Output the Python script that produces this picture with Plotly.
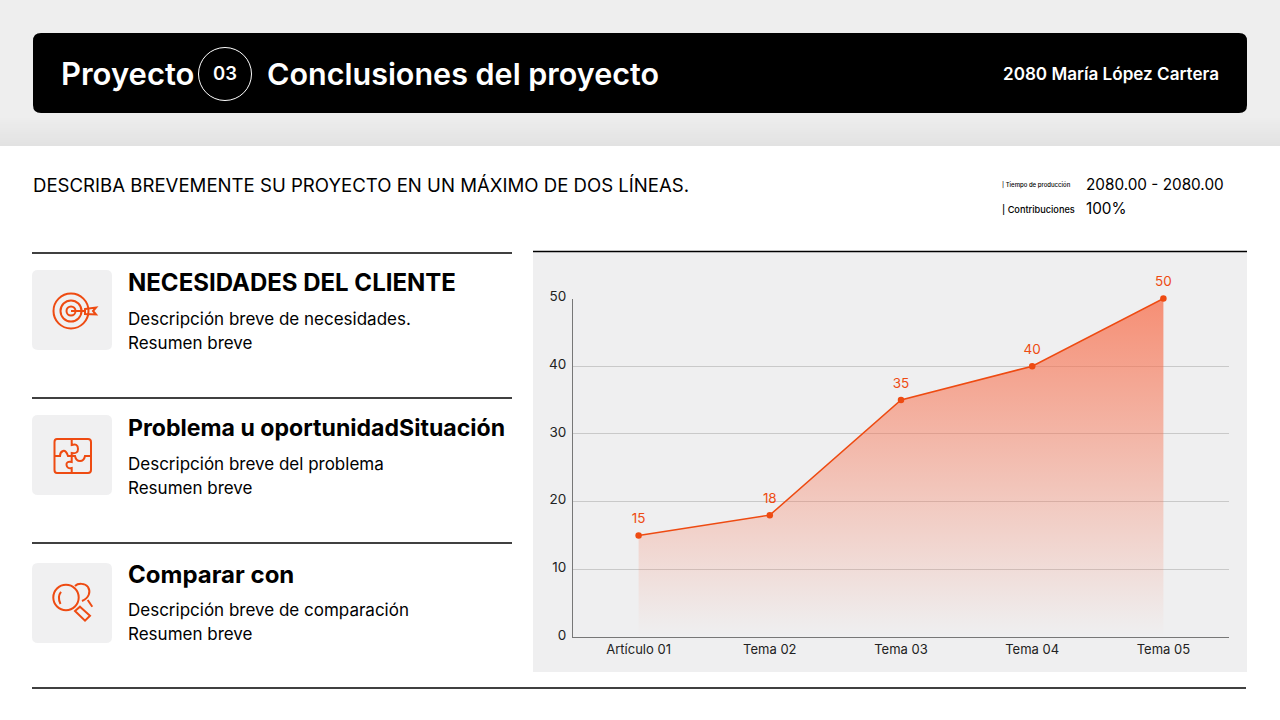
import re
import plotly.graph_objects as go

W, H = 1280, 720
ORANGE = '#ee4b12'
FONT = 'Inter'

# chart data
categories = ['Artículo 01', 'Tema 02', 'Tema 03', 'Tema 04', 'Tema 05']
values = [15, 18, 35, 40, 50]
y_ticks = [0, 10, 20, 30, 40, 50]

# page text
headings = ['NECESIDADES DEL CLIENTE', 'Problema u oportunidadSituación', 'Comparar con']
heading_sizes = [24, 23.1, 24]
first_lines = ['Descripción breve de necesidades.', 'Descripción breve del problema',
               'Descripción breve de comparación']
second_lines = ['Resumen breve', 'Resumen breve', 'Resumen breve']


def px(x):
    return x / W


def py(y):
    return 1 - y / H


def path(d):
    # pixel path -> paper path
    out, is_x = [], True
    for tok in re.findall(r'[A-Za-z]|-?[\d.]+', d):
        if tok.isalpha():
            out.append(tok)
            is_x = True
        else:
            out.append(f'{px(float(tok)):.5f}' if is_x else f'{py(float(tok)):.5f}')
            is_x = not is_x
    return ' '.join(out)


def rect(x0, y0, x1, y1, color):
    return dict(type='rect', xref='paper', yref='paper', layer='below', x0=px(x0), x1=px(x1),
                y0=py(y0), y1=py(y1), fillcolor=color, line_width=0)


def rrect(x0, y0, x1, y1, r, color):
    d = (f'M {x0 + r} {y0} L {x1 - r} {y0} Q {x1} {y0} {x1} {y0 + r} L {x1} {y1 - r} Q {x1} {y1} {x1 - r} {y1} '
         f'L {x0 + r} {y1} Q {x0} {y1} {x0} {y1 - r} L {x0} {y0 + r} Q {x0} {y0} {x0 + r} {y0} Z')
    return dict(type='path', xref='paper', yref='paper', layer='below', path=path(d),
                fillcolor=color, line_width=0)


def rule(x0, x1, y, width=1.5):
    return dict(type='line', xref='paper', yref='paper', layer='above', x0=px(x0), x1=px(x1),
                y0=py(y), y1=py(y), line=dict(color='#000000', width=width))


def circle(cx, cy, r, color=ORANGE, width=2):
    return dict(type='circle', xref='paper', yref='paper', layer='above', x0=px(cx - r), x1=px(cx + r),
                y0=py(cy - r), y1=py(cy + r), line=dict(color=color, width=width))


def stroke(d, width=2):
    return dict(type='path', xref='paper', yref='paper', layer='above', path=path(d),
                line=dict(color=ORANGE, width=width))


def label(x, y, text, size, color='#000000', weight=400, anchor='left'):
    return dict(xref='paper', yref='paper', x=px(x), y=py(y), text=text, showarrow=False,
                xanchor=anchor, yanchor='middle', align=anchor, borderpad=0, borderwidth=0,
                font=dict(family=FONT, size=size, color=color, weight=weight))


shapes = []
# header band fading darker towards the white page
shapes.append(rect(0, 0, W, 146, '#eeeeee'))
for i in range(16):
    c = 238 - int(i * 0.8)
    shapes.append(rect(0, 114 + i * 2, W, 116 + i * 2, f'rgb({c},{c},{c})'))
shapes.append(rrect(33, 33, 1247, 113, 8, '#000000'))
shapes.append(circle(225, 74, 26.5, '#ffffff', 1))

# chart panel
shapes.append(rect(533, 252, 1247, 672, '#efeff0'))
shapes.append(rule(533, 1247, 251.5))

# rules on the left
for y in [253, 398, 543]:
    shapes.append(rule(32, 512, y))
shapes.append(rule(32, 1246, 688))

# icon cards
for y0 in [270, 415, 563]:
    shapes.append(rrect(32, y0, 112, y0 + 80, 6, '#f0f0f1'))

# target icon
shapes += [circle(71, 311, 17.5), circle(71, 311, 10.5), circle(71, 311, 4.5)]
shapes.append(stroke('M 71 311 L 85 311'))
shapes.append(stroke('M 85 309 L 96 307.5 L 93 311 L 96 314.5 L 85 314 Z'))

# puzzle icon
shapes.append(stroke('M 57 439 L 88 439 Q 91 439 91 442 L 91 470 Q 91 473 88 473 L 57 473 '
                     'Q 54.5 473 54.5 470 L 54.5 442 Q 54.5 439 57 439 Z'))
shapes.append(stroke('M 71.7 439 L 71.7 445 Q 78 443 78 449 Q 78 454 71.7 453 L 71.7 456 L 68 456 '
                     'Q 66 450 63 451 Q 60 452 60 456 L 54.5 456'))
shapes.append(stroke('M 71.7 456 L 75 456 Q 76 461 80 461 Q 84 461 85 456 L 91 456'))
shapes.append(stroke('M 71.7 456 L 71.7 462 Q 66 461 66.5 465 Q 67 469 71.7 468 L 71.7 473'))

# magnifier icon
shapes.append(circle(66, 597.5, 12.7))
shapes.append(stroke('M 60.5 604 Q 57 597 61 592'))
shapes.append(stroke('M 75 586 C 78 583 85 583 88 587 C 91 592 89 598 82 601'))
shapes.append(stroke('M 87.7 600 L 92.3 606.7'))
shapes.append(stroke('M 80 606.7 L 90 615.7 L 85 620.7 L 75 611 Z'))

annotations = [
    label(61, 73.5, 'Proyecto', 31, '#ffffff', 600),
    label(225, 73, '03', 18.5, '#ffffff', 600, 'center'),
    label(267, 73.5, 'Conclusiones del proyecto', 30.5, '#ffffff', 600),
    label(1219, 73.5, '2080 María López Cartera', 17.1, '#ffffff', 600, 'right'),
    label(33, 185, 'DESCRIBA BREVEMENTE SU PROYECTO EN UN MÁXIMO DE DOS LÍNEAS.', 18.6),
    label(1002, 185.5, '| Tiempo de producción', 6, '#000000', 500),
    label(1002, 209, '| Contribuciones', 9.2, '#000000', 500),
    label(1086, 184, '2080.00 - 2080.00', 15.3),
    label(1086, 208.5, '100%', 15.3),
]
for i, y in enumerate([283, 428, 574]):
    annotations.append(label(128, y, headings[i], heading_sizes[i], '#000000', 700))
    annotations.append(label(128, y + 35.5, first_lines[i], 17))
    annotations.append(label(128, y + 60, second_lines[i], 17))

fig = go.Figure()
fig.add_trace(go.Scatter(
    x=categories,
    y=values,
    mode='lines+markers',
    line=dict(color=ORANGE, width=1.5),
    marker=dict(color=ORANGE, size=6.5),
    fill='tozeroy',
    fillgradient=dict(type='vertical', colorscale=[
        [0, 'rgba(248,110,75,0)'],
        [0.05, 'rgba(248,110,75,0.03)'],
        [1, 'rgba(248,110,75,0.75)'],
    ]),
    cliponaxis=False,
    hoverinfo='skip',
))
# hidden wide markers push the value labels further off the line
fig.add_trace(go.Scatter(
    x=categories,
    y=values,
    mode='markers+text',
    text=[str(v) for v in values],
    textposition='top center',
    textfont=dict(family=FONT, size=13.5, color=ORANGE),
    marker=dict(size=13, opacity=0),
    cliponaxis=False,
    hoverinfo='skip',
))
fig.update_layout(
    width=W,
    height=H,
    margin=dict(l=0, r=0, t=0, b=0),
    paper_bgcolor='#ffffff',
    plot_bgcolor='rgba(0,0,0,0)',
    showlegend=False,
    shapes=shapes,
    annotations=annotations,
    font=dict(family=FONT),
    xaxis=dict(
        automargin=False,
        domain=[573 / W, 1229 / W],
        range=[-0.5, 4.5],
        showgrid=False,
        showline=True,
        linecolor='#777777',
        linewidth=1,
        ticks='',
        ticklabelstandoff=0,
        tickfont=dict(family=FONT, size=13, color='#222222'),
    ),
    yaxis=dict(
        automargin=False,
        domain=[1 - 637 / H, 1 - 298.5 / H],
        range=[0, 50],
        tickmode='array',
        tickvals=y_ticks,
        showgrid=True,
        gridcolor='#c9c9c9',
        gridwidth=1,
        zeroline=False,
        showline=True,
        linecolor='#777777',
        linewidth=1,
        ticks='',
        ticklabelstandoff=3,
        ticklabelshift=-2,
        tickfont=dict(family=FONT, size=13.5, color='#222222'),
    ),
)
# page has a default body margin
fig.write_html("out.html", config=dict(displayModeBar=False), post_script="document.body.style.margin='0';")
